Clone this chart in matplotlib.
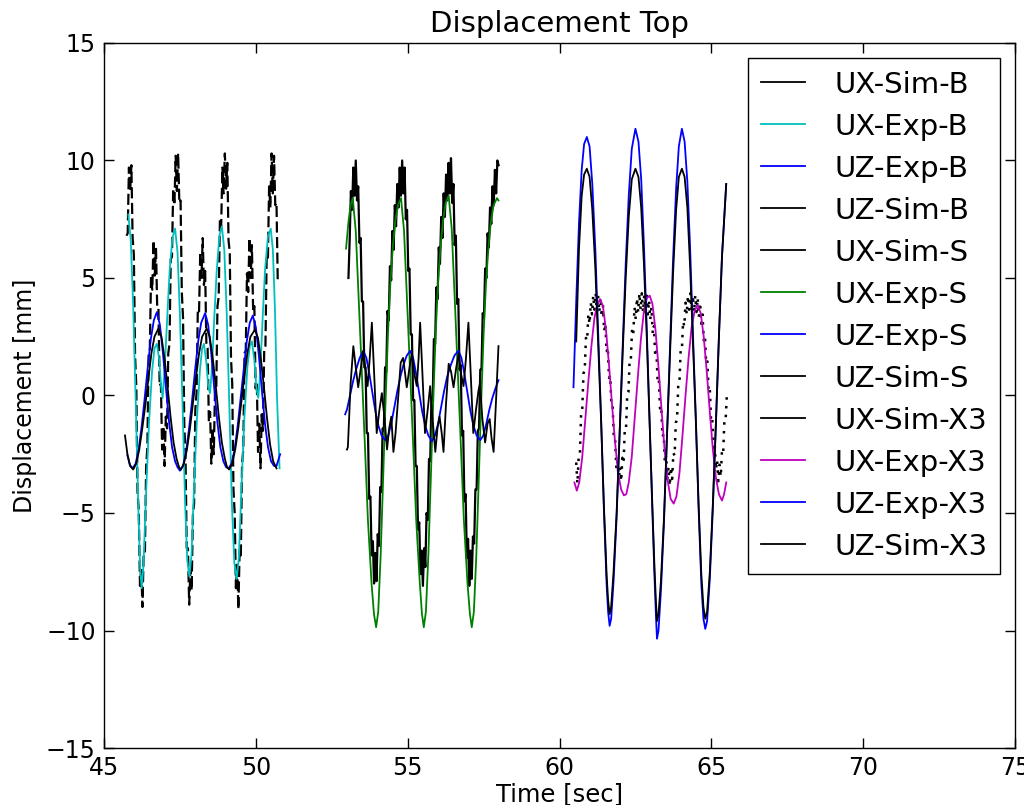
import numpy as np
import matplotlib
matplotlib.use("Agg")
import matplotlib.pyplot as plt

# ---------------- Tramo B ----------------
# UX-Sim-B: muestreo uniforme (inicio, fin) + valores leidos
ux_sim_b_t = (45.7385, 50.72)
ux_sim_b = [6.8, 6.9, 9.7,
            8.7, 9.8, 6.7, 6.0, 1.7, 0.4, -4.1, -4.9, -8.1, -7.3, -9.0, -6.7, -6.7, -3.0, -2.2, 1.7, 2.0, 5.1, 4.5, 6.6,
            5.1, 6.3, 3.7, 3.7, 0.4, 0.5, -2.3, -1.3, -3.0, -0.9, -1.4, 1.8, 2.2, 5.8, 5.9, 8.8, 8.1, 10.2, 8.7,
            10.3, 8.2, 8.3, 4.4, 3.3, -1.2, -2.5, -6.5, -6.5, -8.9, -7.4, -8.3, -5.1, -4.6, -0.6, 0.1, 3.6, 3.5, 6.1,
            5.0, 6.7, 4.7, 5.3, 2.1, 2.0, -1.1, -0.7, -2.9, -1.4, -2.5, 0.2, 0.2, 3.8, 4.2, 7.5, 7.2, 9.7, 8.6, 10.3,
            8.8, 9.9, 6.6, 6.1, 1.6, 0.5, -4.0, -5.0, -8.2, -7.2, -9.1, -6.6, -6.8, -2.9, -2.3, 1.8, 1.9, 5.2, 4.4, 6.7,
            5.0, 6.4, 3.6, 3.8, 0.3, 0.6, -2.4, -1.2, -3.1, -0.8, -1.5, 1.9, 2.1, 5.9, 5.8, 8.9, 8.0, 10.3, 8.6,
            10.2, 8.1, 8.2, 4.9]

ux_exp_b_t = [45.80, 45.88, 45.96, 46.05, 46.13, 46.19, 46.24, 46.30, 46.38, 46.48, 46.58, 46.66, 46.74, 46.82,
              46.88, 46.93, 47.00, 47.08, 47.16, 47.25, 47.34, 47.42, 47.50, 47.59, 47.67, 47.74, 47.81, 47.88,
              47.96, 48.06, 48.16, 48.23, 48.29, 48.37, 48.43, 48.49, 48.55, 48.63, 48.71, 48.80, 48.88, 48.96,
              49.04, 49.13, 49.21, 49.29, 49.37, 49.44, 49.52, 49.62, 49.72, 49.80, 49.87, 49.95, 50.02, 50.08,
              50.14, 50.22, 50.30, 50.40, 50.49, 50.56, 50.63, 50.70, 50.78]
ux_exp_b = [7.7, 6.6, 3.8, -0.6, -4.8, -7.4, -8.2, -7.2, -4.3, -1.2, 1.0, 2.0, 2.2, 1.5,
            0.4, -0.1, 1.2, 3.3, 5.3, 6.7, 7.1, 6.1, 3.4, -0.6, -4.6, -7.0, -7.7, -6.8,
            -4.0, -1.0, 1.1, 2.0, 2.2, 1.4, 0.4, 0.1, 1.1, 3.3, 5.3, 6.8, 7.2, 6.2,
            3.5, -0.6, -4.6, -7.1, -7.8, -6.9, -4.1, -1.0, 1.2, 2.1, 2.3, 1.5, 0.3, -0.1,
            0.9, 3.2, 5.3, 6.8, 7.1, 6.2, 3.6, -0.2, -3.1]

uz_exp_b_t = [45.77, 45.85, 45.94, 46.04, 46.14, 46.24, 46.34, 46.44, 46.54, 46.64, 46.74, 46.84, 46.94, 47.04,
              47.14, 47.24, 47.34, 47.42, 47.50, 47.60, 47.70, 47.80, 47.90, 48.00, 48.10, 48.20, 48.33, 48.43,
              48.53, 48.63, 48.73, 48.83, 48.93, 49.02, 49.10, 49.20, 49.30, 49.40, 49.50, 49.60, 49.70, 49.80,
              49.90, 50.00, 50.10, 50.20, 50.30, 50.40, 50.50, 50.60, 50.68, 50.75, 50.80]
uz_exp_b = [-2.55, -2.95, -3.1, -2.9, -2.3, -1.3, -0.1, 1.2, 2.4, 3.2, 3.55, 3.0, 1.8, 0.3,
            -1.1, -2.2, -2.8, -3.05, -3.2, -3.0, -2.4, -1.4, -0.2, 1.1, 2.3, 3.1, 3.5, 3.0,
            1.8, 0.3, -1.1, -2.2, -2.8, -3.05, -3.1, -2.9, -2.3, -1.3, -0.1, 1.1, 2.3, 3.1,
            3.4, 2.9, 1.7, 0.2, -1.2, -2.2, -2.8, -3.0, -3.0, -2.7, -2.5]

uz_sim_b_t = [45.69, 45.77, 45.86, 45.96, 46.06, 46.16, 46.26, 46.36, 46.46, 46.56, 46.66, 46.79, 46.89, 46.99,
              47.09, 47.19, 47.29, 47.39, 47.47, 47.53, 47.63, 47.73, 47.83, 47.93, 48.03, 48.13, 48.23, 48.38,
              48.48, 48.58, 48.68, 48.78, 48.88, 48.98, 49.05, 49.12, 49.22, 49.32, 49.42, 49.52, 49.62, 49.72,
              49.82, 49.97, 50.07, 50.17, 50.27, 50.37, 50.47, 50.57, 50.68]
uz_sim_b = [-1.7, -2.5, -3.0, -3.15, -2.9, -2.3, -1.4, -0.4, 0.7, 1.8, 2.5, 2.85, 2.5, 1.6,
            0.4, -0.9, -2.0, -2.7, -3.05, -3.15, -2.9, -2.3, -1.4, -0.3, 0.8, 1.8, 2.5, 2.85,
            2.5, 1.6, 0.4, -0.9, -2.0, -2.7, -3.05, -3.15, -2.9, -2.3, -1.4, -0.3, 0.8, 1.8,
            2.5, 2.8, 2.45, 1.5, 0.3, -1.0, -2.1, -2.8, -3.1]

# ---------------- Tramo S ----------------
ux_sim_s_t = (53.0488, 57.9934)
ux_sim_s = [5.0, 6.6, 8.7, 7.9, 9.7, 8.5,
            10.0, 8.3, 8.9, 6.5, 6.7, 4.0, 4.0, 1.2, 1.2, -1.6, -1.6, -4.4, -4.3, -6.8, -6.2, -8.0, -6.7, -7.9, -5.9,
            -6.4, -3.9, -4.1, -1.4, -1.5, 1.2, 1.0, 3.6, 3.2, 5.5, 4.9, 7.0, 6.2, 8.1, 7.2, 9.0, 8.0, 9.7, 8.5, 10.0,
            8.6, 9.7, 7.5, 7.9, 5.3, 5.4, 2.6, 2.6, -0.2, -0.2, -3.0, -3.0, -5.7, -5.4, -7.6, -6.6, -8.1, -6.5, -7.3,
            -5.0, -5.3, -2.7, -2.8, -0.1, -0.2, 2.4, 2.2, 4.6, 4.1, 6.3, 5.6, 7.6, 6.7, 8.6, 7.6, 9.4, 8.3, 9.9, 8.6,
            10.1, 8.2, 9.0, 6.4, 6.8, 3.9, 4.1, 1.1, 1.3, -1.7, -1.5, -4.5, -4.2, -6.9, -6.1, -8.1, -6.6, -7.8, -6.0,
            -6.3, -4.0, -4.0, -1.5, -1.4, 1.1, 1.1, 3.5, 3.3, 5.4, 5.0, 6.9, 6.3, 8.0, 7.3, 8.9, 8.1, 9.6, 8.6, 10.0,
            9.8]

ux_exp_s_t = [52.97, 53.05, 53.12, 53.19, 53.29, 53.39, 53.49, 53.59, 53.69, 53.81, 53.89, 53.96, 54.03, 54.11,
              54.19, 54.27, 54.35, 54.43, 54.51, 54.59, 54.68, 54.78, 54.88, 54.98, 55.08, 55.18, 55.28, 55.40,
              55.47, 55.53, 55.60, 55.68, 55.76, 55.84, 55.92, 56.00, 56.08, 56.16, 56.25, 56.35, 56.45, 56.55,
              56.65, 56.75, 56.85, 56.97, 57.05, 57.11, 57.18, 57.26, 57.34, 57.42, 57.50, 57.58, 57.66, 57.74,
              57.83, 57.94, 57.99]
ux_exp_s = [6.25, 7.4, 8.1, 8.4, 7.0, 4.0, 1.0, -2.1, -5.3, -8.0, -9.3, -9.86, -9.2, -6.8,
            -3.6, -0.3, 2.6, 4.8, 6.3, 7.4, 8.1, 8.4, 7.0, 4.0, 1.0, -2.1, -5.3, -8.0,
            -9.3, -9.86, -9.2, -6.8, -3.6, -0.3, 2.6, 4.8, 6.3, 7.4, 8.2, 8.5, 7.1, 4.1,
            1.0, -2.1, -5.3, -8.0, -9.3, -9.86, -9.2, -6.8, -3.6, -0.3, 2.6, 4.8, 6.3, 7.4,
            8.1, 8.4, 8.3]

uz_exp_s_t = [52.94, 53.00, 53.10, 53.20, 53.30, 53.42, 53.54, 53.64, 53.74, 53.84, 53.94, 54.04, 54.14, 54.26,
              54.36, 54.46, 54.56, 54.66, 54.76, 54.86, 54.97, 55.08, 55.18, 55.28, 55.38, 55.48, 55.58, 55.68,
              55.80, 55.90, 56.00, 56.10, 56.20, 56.30, 56.42, 56.54, 56.67, 56.77, 56.87, 56.97, 57.07, 57.17,
              57.27, 57.39, 57.49, 57.59, 57.69, 57.79, 57.89, 57.99]
uz_exp_s = [-0.8, -0.6, 0.0, 0.6, 1.1, 1.6, 1.9, 1.6, 0.9, 0.1, -0.7, -1.3, -1.7, -1.9,
            -1.7, -1.2, -0.5, 0.2, 0.8, 1.3, 1.7, 1.9, 1.6, 0.9, 0.1, -0.7, -1.3, -1.7,
            -1.95, -1.7, -1.2, -0.5, 0.2, 0.8, 1.3, 1.7, 1.9, 1.6, 0.9, 0.1, -0.7, -1.3,
            -1.7, -1.9, -1.7, -1.2, -0.6, -0.1, 0.3, 0.65]

uz_sim_s_t = [53.00, 53.03, 53.12, 53.21, 53.29, 53.37, 53.46, 53.54, 53.62, 53.68, 53.75, 53.82, 53.90, 53.98,
              54.07, 54.15, 54.24, 54.32, 54.39, 54.46, 54.53, 54.60, 54.68, 54.77, 54.85, 54.97, 55.06, 55.14,
              55.22, 55.30, 55.36, 55.41, 55.49, 55.57, 55.66, 55.74, 55.82, 55.91, 55.98, 56.05, 56.12, 56.18,
              56.26, 56.35, 56.43, 56.51, 56.60, 56.68, 56.76, 56.84, 56.92, 57.00, 57.08, 57.16, 57.25, 57.33,
              57.38, 57.46, 57.55, 57.63, 57.70, 57.76, 57.83, 57.91, 57.99]
uz_sim_s = [-2.3, -2.2, 0.5, 2.1, 1.2, 0.35, 1.2, 1.9, 1.0, 0.4, 1.6, 3.1, 0.8, -1.6,
            -0.6, 0.1, -1.0, -2.3, -1.4, -0.9, -2.4, -1.6, -0.2, 1.4, 1.6, 0.35, 1.2, 1.8,
            0.9, 0.4, 1.6, 3.1, 0.8, -1.6, -0.6, 0.4, -1.0, -2.4, -1.4, -0.9, -1.6, -2.4,
            -0.4, 1.35, 1.0, 0.35, 1.2, 1.8, 0.9, 0.4, 1.6, 3.1, 0.8, -1.6, -0.6, 0.2,
            0.5, -1.0, -2.0, -1.2, -1.0, -1.8, -2.4, -0.2, 2.1]

# ---------------- Tramo X3 ----------------
ux_sim_x3_t = (60.55, 65.51)
ux_sim_x3 = [-2.85, -3.75, -2.65, -2.55, -0.85, -0.55, 0.95, 1.05, 2.45, 2.35, 3.45, 3.05, 3.95, 3.45, 4.25,
             3.65, 4.35, 3.55, 4.25, 3.55, 4.15, 3.35, 3.85, 2.75, 3.05, 1.85, 2.05, 0.75, 0.85, -0.45,
             -0.45, -1.85, -1.85, -3.05, -2.75, -3.65, -3.05, -3.65, -2.65, -2.85, -1.45, -1.45, 0.05, 0.15,
             1.55, 1.55, 2.85, 2.65, 3.75, 3.25, 4.15, 3.55, 4.35, 3.65, 4.35, 3.55, 4.25, 3.55, 4.25, 3.45,
             4.05, 3.25, 3.75, 2.65, 2.95, 1.75, 1.95, 0.65, 0.75, -0.55, -0.45, -1.75, -1.65, -2.85, -2.55,
             -3.55, -3.05, -3.85, -3.05, -3.55, -2.45, -2.55, -1.15, -1.05, 0.45, 0.55, 1.95, 1.95, 3.15, 2.95,
             3.95, 3.45, 4.25, 3.65, 4.35, 3.65, 4.25, 3.55, 4.25, 3.55, 4.15, 3.35, 3.95, 3.05, 3.45, 2.35,
             2.55, 1.35, 1.45, 0.15, 0.25, -1.05, -0.95, -2.25, -2.05, -3.15, -2.75, -3.65, -2.95, -3.45,
             -2.35, -2.45, -1.05, -1.05, 0.0]

ux_exp_x3_t = [60.49, 60.57, 60.65, 60.75, 60.85, 60.95, 61.05, 61.15, 61.25, 61.34, 61.43, 61.53, 61.63, 61.73,
               61.83, 61.93, 62.03, 62.12, 62.20, 62.28, 62.38, 62.48, 62.58, 62.68, 62.78, 62.88, 62.97, 63.06,
               63.16, 63.26, 63.36, 63.46, 63.56, 63.66, 63.76, 63.85, 63.95, 64.05, 64.15, 64.25, 64.35, 64.45,
               64.55, 64.65, 64.75, 64.85, 64.95, 65.05, 65.15, 65.25, 65.35, 65.42, 65.49]
ux_exp_x3 = [-3.7, -4.05, -3.7, -2.6, -1.0, 0.6, 2.1, 3.3, 3.9, 4.1, 3.8, 2.8, 1.3, -0.4,
             -2.0, -3.3, -4.0, -4.25, -4.2, -3.7, -2.6, -0.9, 0.8, 2.4, 3.6, 4.15, 4.25, 3.9,
             2.8, 1.2, -0.6, -2.3, -3.6, -4.4, -4.6, -4.3, -3.3, -1.7, 0.0, 1.6, 2.9, 3.6,
             3.85, 3.5, 2.5, 1.0, -0.7, -2.3, -3.5, -4.2, -4.47, -4.2, -3.7]

uz_exp_x3_t = [60.46, 60.55, 60.64, 60.73, 60.81, 60.90, 60.99, 61.08, 61.18, 61.27, 61.37, 61.46, 61.55, 61.60,
               61.65, 61.70, 61.78, 61.88, 61.98, 62.08, 62.18, 62.28, 62.38, 62.50, 62.60, 62.69, 62.78, 62.87,
               62.96, 63.05, 63.13, 63.18, 63.21, 63.26, 63.34, 63.44, 63.54, 63.64, 63.74, 63.84, 63.93, 64.03,
               64.12, 64.21, 64.30, 64.39, 64.49, 64.58, 64.67, 64.74, 64.80, 64.86, 64.95, 65.05, 65.15, 65.25,
               65.35, 65.49]
uz_exp_x3 = [0.35, 4.0, 7.3, 9.6, 10.7, 11.0, 10.6, 9.0, 6.2, 2.8, -1.0, -4.8, -8.0, -9.2,
             -9.8, -9.5, -7.9, -5.2, -1.6, 2.1, 5.6, 8.5, 10.5, 11.35, 10.8, 9.2, 6.4, 3.0,
             -0.8, -4.6, -7.8, -9.5, -10.35, -10.0, -8.3, -5.4, -1.7, 2.1, 5.8, 8.8, 10.6, 11.35,
             10.8, 9.1, 6.3, 2.8, -1.0, -4.8, -8.0, -9.5, -9.93, -9.6, -7.8, -4.8, -1.2, 2.5,
             5.9, 9.0]

uz_sim_x3_t = [60.55, 60.64, 60.73, 60.81, 60.90, 60.99, 61.08, 61.18, 61.27, 61.37, 61.46, 61.55, 61.60, 61.65,
               61.70, 61.78, 61.88, 61.98, 62.08, 62.18, 62.28, 62.38, 62.50, 62.60, 62.69, 62.78, 62.87, 62.96,
               63.05, 63.13, 63.18, 63.21, 63.26, 63.34, 63.44, 63.54, 63.64, 63.74, 63.84, 63.93, 64.03, 64.12,
               64.21, 64.30, 64.39, 64.49, 64.58, 64.67, 64.74, 64.80, 64.86, 64.95, 65.05, 65.15, 65.25, 65.35,
               65.49]
uz_sim_x3 = [2.3, 6.2, 8.5, 9.4, 9.65, 9.3, 7.9, 5.4, 2.3, -1.1, -4.6, -7.6, -8.7, -9.3,
             -9.0, -7.5, -5.0, -1.6, 1.8, 5.0, 7.6, 9.2, 9.65, 9.3, 8.0, 5.6, 2.6, -0.9,
             -4.4, -7.4, -8.9, -9.6, -9.3, -7.9, -5.2, -1.7, 1.8, 5.2, 7.9, 9.3, 9.65, 9.3,
             8.0, 5.5, 2.4, -1.1, -4.6, -7.6, -9.0, -9.5, -9.2, -7.5, -4.6, -1.2, 2.5, 5.9,
             9.0]


def tiempo(rango, valores):
    return np.linspace(rango[0], rango[1], len(valores))


def main():
    fig = plt.figure(figsize=(10.24, 8.05), dpi=100)
    ax = fig.add_axes([0.1016, 0.0708, 0.8896, 0.8758])
    lw = 1.3     # curvas experimentales
    lw_sim = 1.6  # curvas simuladas con ruido

    ax.plot(tiempo(ux_sim_b_t, ux_sim_b), ux_sim_b, color='k', lw=lw_sim, ls=(0, (5, 2)), label='UX-Sim-B')
    ax.plot(ux_exp_b_t, ux_exp_b, color=(0, 0.75, 0.75), lw=lw, label='UX-Exp-B')
    ax.plot(uz_exp_b_t, uz_exp_b, color='b', lw=lw, label='UZ-Exp-B')
    ax.plot(uz_sim_b_t, uz_sim_b, color='k', lw=lw, label='UZ-Sim-B')
    ax.plot(tiempo(ux_sim_s_t, ux_sim_s), ux_sim_s, color='k', lw=lw_sim, label='UX-Sim-S')
    ax.plot(ux_exp_s_t, ux_exp_s, color=(0, 0.5, 0), lw=lw, label='UX-Exp-S')
    ax.plot(uz_exp_s_t, uz_exp_s, color='b', lw=lw, label='UZ-Exp-S')
    ax.plot(uz_sim_s_t, uz_sim_s, color='k', lw=lw, label='UZ-Sim-S')
    ax.plot(tiempo(ux_sim_x3_t, ux_sim_x3), ux_sim_x3, color='k', lw=1.8, ls=(0, (1, 2.5)), label='UX-Sim-X3')
    ax.plot(ux_exp_x3_t, ux_exp_x3, color=(0.75, 0, 0.75), lw=lw, label='UX-Exp-X3')
    ax.plot(uz_exp_x3_t, uz_exp_x3, color='b', lw=lw, label='UZ-Exp-X3')
    ax.plot(uz_sim_x3_t, uz_sim_x3, color='k', lw=lw, label='UZ-Sim-X3')

    ax.set_xlim(45, 75)
    ax.set_ylim(-15, 15)
    ax.set_xticks(np.arange(45, 76, 5))
    ax.set_yticks(np.arange(-15, 16, 5))
    ax.tick_params(direction='in', top=True, right=True, length=7, width=1, labelsize=17, pad=6)
    for s in ax.spines.values():
        s.set_linewidth(1.0)

    ax.set_title('Displacement Top', fontsize=21, pad=8)
    ax.set_xlabel('Time [sec]', fontsize=17.5, labelpad=1)
    ax.set_ylabel('Displacement [mm]', fontsize=17, labelpad=6)

    leg = ax.legend(loc='upper right', fontsize=21, frameon=True, fancybox=False, shadow=False,
                    labelspacing=0.48, handlelength=1.5, handletextpad=1.0, borderpad=0.45,
                    borderaxespad=0.5, framealpha=1)
    leg.get_frame().set_edgecolor('k')
    leg.get_frame().set_linewidth(1.0)
    # en la leyenda todas las muestras van con linea continua
    for linea in leg.get_lines():
        linea.set_linestyle('-')
        linea.set_linewidth(lw)

    fig.savefig('out.png', dpi=100)


if __name__ == "__main__":
    main()
